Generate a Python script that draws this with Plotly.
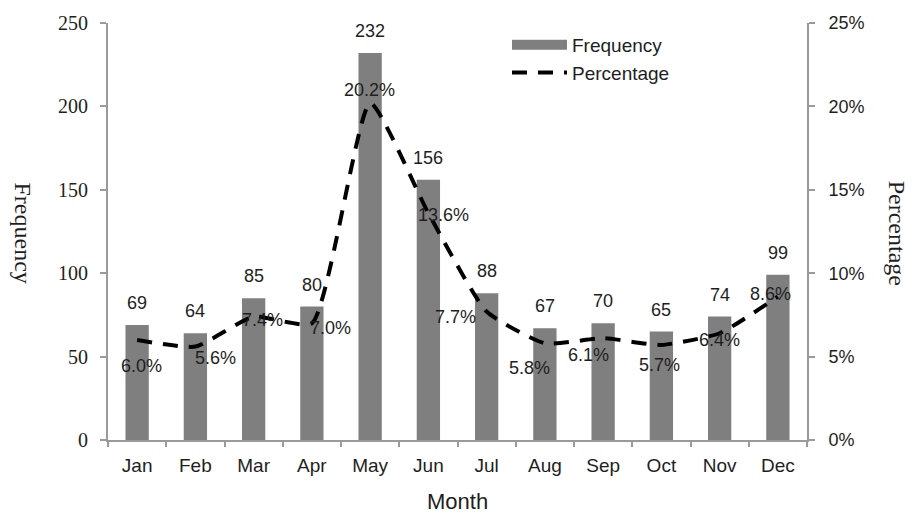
import plotly.graph_objects as go

months = ["Jan", "Feb", "Mar", "Apr", "May", "Jun", "Jul", "Aug", "Sep", "Oct", "Nov", "Dec"]
frequency = [69, 64, 85, 80, 232, 156, 88, 67, 70, 65, 74, 99]
percentage = [6.0, 5.6, 7.4, 7.0, 20.2, 13.6, 7.7, 5.8, 6.1, 5.7, 6.4, 8.6]
pct_labels = ["6.0%", "5.6%", "7.4%", "7.0%", "20.2%", "13.6%", "7.7%", "5.8%", "6.1%", "5.7%", "6.4%", "8.6%"]

# label placement offsets (pixels): (right, down)
pct_offsets = [(4, 26), (20, 11), (9, 3), (19, 5), (-1, -13), (15, 2),
               (-31, 5), (-15, 25), (-15, 17), (-2, 20), (0, 7), (-7, -3)]

SANS = "Liberation Sans, Arial, sans-serif"
SERIF = "Liberation Serif, Times New Roman, serif"
TXT = "#1e1e1e"
AXC = "#9a9a9a"
BARC = "#7f7f7f"

fig = go.Figure()
fig.add_trace(go.Bar(
    x=months, y=frequency, name="Frequency",
    marker=dict(color=BARC, line=dict(width=0)),
    yaxis="y", showlegend=False,
))
# legend-only entry with a wide rectangular swatch (as in the reference legend)
fig.add_trace(go.Scatter(
    x=[None], y=[None], name="Frequency", mode="lines",
    line=dict(color=BARC, width=13), yaxis="y", showlegend=True,
))
fig.add_trace(go.Scatter(
    x=months, y=[p / 100 for p in percentage], name="Percentage",
    mode="lines", yaxis="y2",
    line=dict(color="black", width=4, dash="15px,11px", shape="spline", smoothing=0.5),
))

annotations = []
for m, f in zip(months, frequency):
    annotations.append(dict(x=m, y=f, xref="x", yref="y", text=str(f), showarrow=False,
                            yshift=22, font=dict(family=SANS, size=18, color=TXT)))
for m, p, t, (dx, dy) in zip(months, percentage, pct_labels, pct_offsets):
    annotations.append(dict(x=m, y=p / 100, xref="x", yref="y2", text=t, showarrow=False,
                            xshift=dx, yshift=-dy, font=dict(family=SANS, size=18, color=TXT)))

annotations.append(dict(x=-0.1216, y=0.4976, xref="paper", yref="paper", text="Frequency",
                        xanchor="center", yanchor="middle",
                        textangle=90, showarrow=False, font=dict(family=SERIF, size=24, color=TXT)))
annotations.append(dict(x=1.130, y=0.495, xref="paper", yref="paper", text="Percentage",
                        xanchor="center", yanchor="middle",
                        textangle=90, showarrow=False, font=dict(family=SERIF, size=24, color=TXT)))
annotations.append(dict(x=0.4993, y=-0.1476, xref="paper", yref="paper", text="Month",
                        xanchor="center", yanchor="middle",
                        showarrow=False, font=dict(family=SANS, size=22, color=TXT)))

fig.update_layout(
    width=914, height=516,
    margin=dict(l=108, r=107, t=20, b=76),
    paper_bgcolor="white", plot_bgcolor="white",
    bargap=0.6,
    showlegend=True,
    legend=dict(x=(507 - 108) / 699, y=0.993, xanchor="left", yanchor="top",
                font=dict(family=SANS, size=19, color=TXT), itemwidth=55,
                bgcolor="rgba(0,0,0,0)", traceorder="normal"),
    xaxis=dict(showline=True, linecolor=AXC, linewidth=2, ticks="outside", ticklen=5,
               tickcolor=AXC, tickwidth=2, tickson="boundaries", showgrid=False,
               tickfont=dict(family=SANS, size=19, color=TXT), ticklabelstandoff=7),
    yaxis=dict(range=[0, 250], dtick=50, showline=True, linecolor=AXC, linewidth=2,
               ticks="outside", ticklen=6, tickcolor=AXC, tickwidth=2, showgrid=False,
               zeroline=False, tickfont=dict(family=SERIF, size=20, color=TXT),
               ticklabelstandoff=8),
    yaxis2=dict(range=[0, 0.25], dtick=0.05, tickformat=".0%", overlaying="y", side="right",
                showline=True, linecolor=AXC, linewidth=2, ticks="outside", ticklen=6,
                tickcolor=AXC, tickwidth=2, showgrid=False, zeroline=False,
                tickfont=dict(family=SANS, size=18, color=TXT), ticklabelstandoff=10),
    annotations=annotations,
)

fig.write_html("out.html")
